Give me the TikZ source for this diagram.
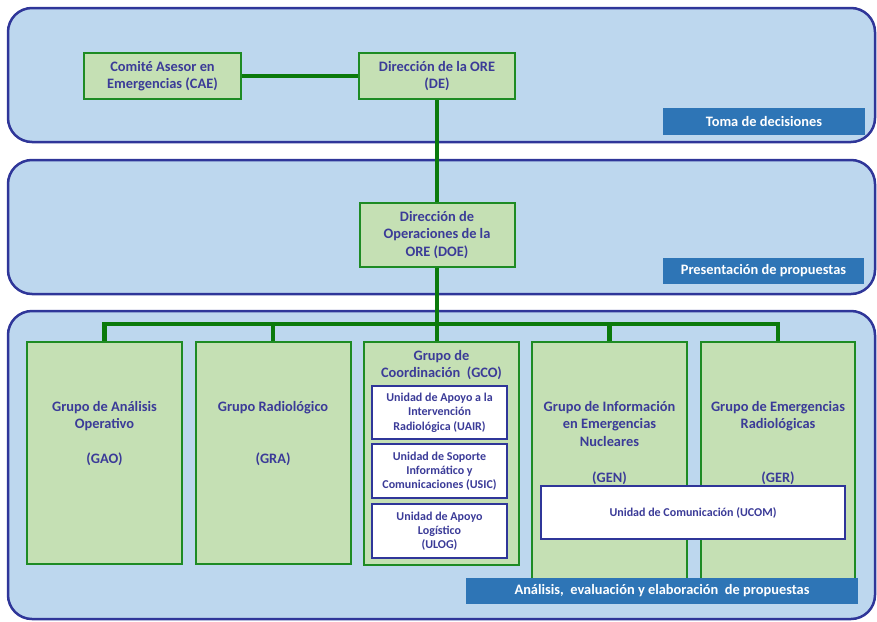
\documentclass[tikz,border=0pt]{standalone}
\usepackage{fontspec}
\setmainfont{Carlito}
\usetikzlibrary{positioning}
\definecolor{bandfill}{HTML}{BDD7EE}
\definecolor{bandline}{HTML}{2F3699}
\definecolor{grpfill}{HTML}{C5E0B4}
\definecolor{grpline}{HTML}{1E8B24}
\definecolor{linkcol}{HTML}{0B7A0B}
\definecolor{txtcol}{HTML}{3B3B98}
\definecolor{tagfill}{HTML}{2E75B6}
\tikzset{
  band/.style={draw=bandline, fill=bandfill, line width=2.5pt, rounded corners=24pt},
  grp/.style={draw=grpline, fill=grpfill, line width=2pt, inner sep=0pt, text=txtcol, align=center,
    font=\bfseries\fontsize{14.4}{17.5}\selectfont},
  grptxt/.style={inner sep=0pt, anchor=north, text=txtcol, align=center,
    font=\bfseries\fontsize{14.4}{17.5}\selectfont},
  unitbox/.style={draw=bandline, fill=white, line width=2pt, inner sep=0pt, text=txtcol, align=center,
    font=\bfseries\fontsize{12}{14.3}\selectfont},
  tag/.style={fill=tagfill, text=white, inner sep=0pt, font=\bfseries\fontsize{14.4}{16}\selectfont},
  link/.style={draw=linkcol, line width=4.5pt}
}
\begin{document}
\begin{tikzpicture}[x=1pt,y=-1pt]
    \useasboundingbox (0,0) rectangle (877,621);

    %Bands
    \draw[band] (8,8) rectangle (875,142);
    \draw[band] (8,160) rectangle (875,294);
    \draw[band] (8,311) rectangle (875,619);

    %Decision level
    \node[grp, minimum width=157pt, minimum height=46pt] (cae) at (162.5,76) {Comité Asesor en\\Emergencias (CAE)};
    \node[grp, minimum width=156pt, minimum height=46pt] (de) at (437,76) {Dirección de la ORE\\(DE)};
    \node[tag, minimum width=202pt, minimum height=27pt] (toma) at (764,121.5) {Toma de decisiones};

    %Proposal level
    \node[grp, minimum width=155pt, minimum height=64pt] (doe) at (437,235) {Dirección de\\Operaciones de la\\ORE (DOE)};
    \node[tag, minimum width=201pt, minimum height=26pt] (prop) at (763.5,271) {Presentación de propuestas};

    %Groups
    \node[grp, minimum width=155pt, minimum height=222pt] (gao) at (104.5,453) {};
    \node[grp, minimum width=155pt, minimum height=222pt] (gra) at (273,453) {};
    \node[grp, minimum width=155pt, minimum height=223pt] (gco) at (441.5,453.5) {};
    \node[grp, minimum width=155pt, minimum height=248pt] (gen) at (609.5,466) {};
    \node[grp, minimum width=154pt, minimum height=248pt] (ger) at (778,466) {};

    \node[grptxt] (gaotxt) at ([yshift=-60pt]gao.north) {Grupo de Análisis\\Operativo\\[17.5pt](GAO)};
    \node[grptxt] (gratxt) at ([yshift=-60pt]gra.north) {Grupo Radiológico\\[35pt](GRA)};
    \node[grptxt] (gcotxt) at ([yshift=-9pt]gco.north) {Grupo de\\Coordinación~~(GCO)};
    \node[grptxt] (gentxt) at ([yshift=-60pt]gen.north) {Grupo de Información\\en Emergencias\\Nucleares\\[18.5pt](GEN)};
    \node[grptxt] (gertxt) at ([yshift=-60pt]ger.north) {Grupo de Emergencias\\Radiológicas\\[36pt](GER)};

    %Units
    \node[unitbox, minimum width=135pt, minimum height=53pt] (uair) at (439.5,412.5) {Unidad de Apoyo a la\\Intervención\\Radiológica (UAIR)};
    \node[unitbox, minimum width=135pt, minimum height=54pt] (usic) at (439.5,471) {Unidad de Soporte\\Informático y\\Comunicaciones (USIC)};
    \node[unitbox, minimum width=135pt, minimum height=54pt] (ulog) at (439.5,531) {Unidad de Apoyo\\Logístico\\(ULOG)};
    \node[unitbox, minimum width=304pt, minimum height=53pt] (ucom) at (693,512.5) {Unidad de Comunicación (UCOM)};

    %Links
    \coordinate (bus) at (437,324);
    \draw[link] (cae) -- (de);
    \draw[link] (de) -- (doe);
    \draw[link] (doe.south) -- (doe.south |- gco.north);
    \draw[link] (gao.north) |- (bus) -| (ger.north);
    \draw[link] (gra.north) -- (gra.north |- bus);
    \draw[link] (gen.north) -- (gen.north |- bus);

    \node[tag, minimum width=392pt, minimum height=26pt] (anal) at (662,591) {Análisis,~ evaluación y elaboración~ de propuestas};
\end{tikzpicture}
\end{document}
